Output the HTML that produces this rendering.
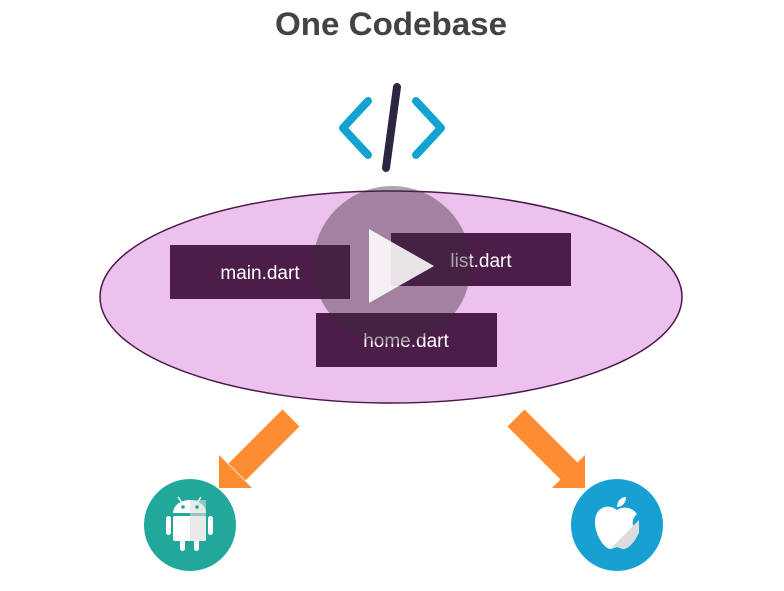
<!DOCTYPE html>
<html><head><meta charset="utf-8"><style>
html,body{margin:0;padding:0;background:#fff;}
svg{display:block;}
</style></head><body>
<svg width="784" height="591" viewBox="0 0 784 591" xmlns="http://www.w3.org/2000/svg">
<text x="391" y="35" text-anchor="middle" font-family="Liberation Sans, sans-serif" font-weight="bold" font-size="32" fill="#434343" textLength="232" lengthAdjust="spacingAndGlyphs">One Codebase</text>
<!-- code icon -->
<polyline points="368,101 343,128 368,155" fill="none" stroke="#12a3cf" stroke-width="8" stroke-linecap="round" stroke-linejoin="round"/>
<polyline points="416,101 441,128 416,155" fill="none" stroke="#12a3cf" stroke-width="8" stroke-linecap="round" stroke-linejoin="round"/>
<line x1="397" y1="87" x2="386" y2="168" stroke="#2e2540" stroke-width="8" stroke-linecap="round"/>
<!-- ellipse -->
<ellipse cx="391" cy="297" rx="291" ry="106" fill="#edc1ed" stroke="#4a1a47" stroke-width="1.5"/>
<rect x="170" y="245" width="180" height="54" fill="#4d1d4a"/>
<rect x="391" y="233" width="180" height="53" fill="#4d1d4a"/>
<rect x="316" y="313" width="181" height="54" fill="#4d1d4a"/>
<g font-family="Liberation Sans, sans-serif" font-size="19" fill="#fff" text-anchor="middle">
<text x="260" y="279">main.dart</text>
<text x="481" y="267">list.dart</text>
<text x="406" y="347">home.dart</text>
</g>
<!-- play overlay -->
<circle cx="392" cy="265" r="79" fill="rgba(60,40,60,0.42)"/>
<polygon points="369,229 369,303 434,266" fill="rgba(255,255,255,0.88)"/>
<!-- arrows -->
<line x1="291" y1="418" x2="237" y2="472" stroke="#fd8c33" stroke-width="24"/>
<polygon points="219,455 219,488 252,488" fill="#fd8c33"/>
<line x1="516" y1="418" x2="570" y2="472" stroke="#fd8c33" stroke-width="24"/>
<polygon points="585,455 585,488 552,488" fill="#fd8c33"/>
<!-- android -->
<circle cx="190" cy="525" r="46" fill="#22a89a"/>
<g fill="#fff">
<path d="M173,513 A16.5,13 0 0 1 206,513 Z"/>
<rect x="173" y="516" width="33" height="25" rx="2"/>
<rect x="166" y="516" width="5" height="19" rx="2.5"/>
<rect x="208" y="516" width="5" height="19" rx="2.5"/>
<rect x="180" y="538" width="5" height="13" rx="2.5"/>
<rect x="194" y="538" width="5" height="13" rx="2.5"/>
<line x1="178" y1="497" x2="182" y2="503" stroke="#fff" stroke-width="1.5"/>
<line x1="201" y1="497" x2="197" y2="503" stroke="#fff" stroke-width="1.5"/>
</g>
<rect x="190" y="500" width="16" height="41" fill="#dcdcdc" opacity="0.6"/>
<circle cx="183" cy="507" r="1.8" fill="#22a89a"/>
<circle cx="197" cy="507" r="1.8" fill="#22a89a"/>
<!-- apple -->
<circle cx="617" cy="525" r="46" fill="#17a1d3"/>
<g fill="#fff">
<path d="M617,510 C608,503 595,507 595,522 C595,535 604,548 610,549 C613,549 615,547 617,547 C619,547 621,549 624,549 C630,548 637,538 639,532 C632,529 630,520 637,514 C632,507 623,506 617,510 Z"/>
<path d="M617,507 C617,501 621,497 626,497 C626,503 622,507 617,507 Z"/>
</g>
<path d="M639,520 L639,532 C636,540 630,548 624,549 C621,549 619,547 617,547 C615,547 613,549 610,549 Z" fill="#dcdcdc"/>
</svg>
</body></html>
